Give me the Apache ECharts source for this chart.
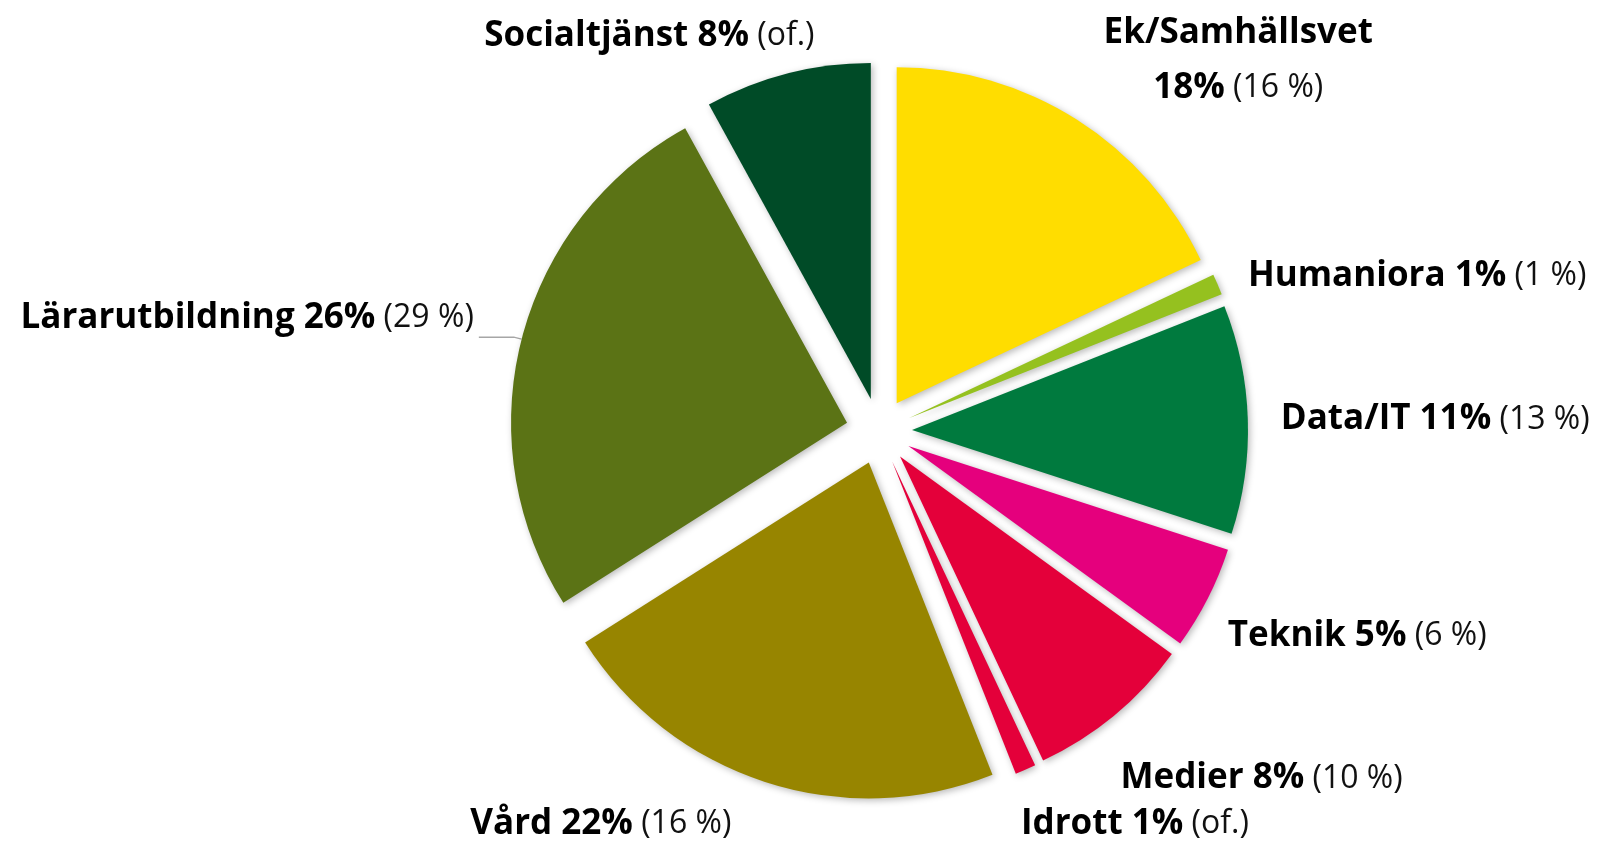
<!DOCTYPE html>
<html>
<head>
<meta charset="utf-8">
<script src="https://cdn.jsdelivr.net/npm/echarts@6/dist/echarts.min.js"></script>
<style>
  html, body { margin: 0; padding: 0; background: #fff; }
  #chart { width: 1604px; height: 843px; }
</style>
</head>
<body>
<div id="chart"></div>
<script>
// share per programme this year, with last year's share in brackets
const names = ['Ek/Samhällsvet', 'Humaniora', 'Data/IT', 'Teknik', 'Medier', 'Idrott', 'Vård', 'Lärarutbildning', 'Socialtjänst']
const values = [18, 1, 11, 5, 8, 1, 22, 26, 8]
const previous = ['16 %', '1 %', '13 %', '6 %', '10 %', 'of.', '16 %', '29 %', 'of.']
const colors = ['#ffdd00', '#95c11f', '#007a3e', '#e5007d', '#e4003a', '#e4003a', '#978500', '#5b7315', '#004b27']

// label line lengths, tuned so the labels land where the original has them
const lineLen = [70, 21, 0, 83, 82, 59, 44, 8, 39]
const lineLen2 = [119, 6, 28, -59, -51, -33, 15, 35, -42]

const chart = echarts.init(document.getElementById('chart'))

const data = names.map((name, i) => ({
  name,
  value: values[i],
  selected: true,
  itemStyle: { color: colors[i] },
  labelLine: {
    show: name === 'Lärarutbildning',
    length: lineLen[i],
    length2: lineLen2[i]
  },
  label: name === 'Lärarutbildning' ? { padding: [0, 0, 38, 0] } : {}
}))

chart.setOption({
  animation: false,
  backgroundColor: '#fff',
  series: [{
    type: 'pie',
    center: [879, 431],
    radius: 336,
    startAngle: 90,
    clockwise: true,
    selectedMode: 'multiple',
    selectedOffset: 33,
    avoidLabelOverlap: false,
    emphasis: { disabled: true },
    itemStyle: {
      borderWidth: 0,
      shadowBlur: 7,
      shadowColor: 'rgba(0,0,0,0.28)',
      shadowOffsetX: 2,
      shadowOffsetY: 2
    },
    select: { itemStyle: { borderWidth: 0 } },
    label: {
      show: true,
      position: 'outside',
      distanceToLabelLine: 5,
      formatter: p => {
        const i = p.dataIndex
        const sep = names[i] === 'Ek/Samhällsvet' ? '\n' : ' '
        return `{b|${names[i]}${sep}${values[i]}%}{n| (${previous[i]})}`
      },
      rich: {
        b: { fontFamily: 'Open Sans', fontWeight: 'bold', fontSize: 35, color: '#000', lineHeight: 55 },
        n: { fontFamily: 'Open Sans', fontSize: 32, color: '#111', lineHeight: 55 }
      }
    },
    labelLine: { lineStyle: { color: '#a6a6a6', width: 1.3 } },
    labelLayout: p => (p.dataIndex === 0 ? { align: 'center' } : {}),
    data
  }]
})
</script>
</body>
</html>
